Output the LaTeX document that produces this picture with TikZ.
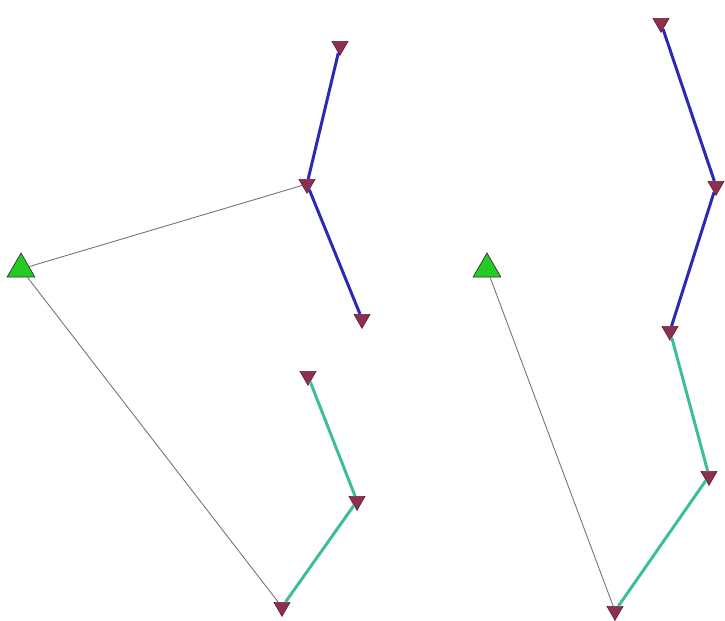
\documentclass[tikz,border=0pt]{standalone}
\usetikzlibrary{shapes.geometric}
\definecolor{RootGreen}{HTML}{22CC22}
\definecolor{LeafMaroon}{HTML}{8E2F52}
\definecolor{ChainBlue}{HTML}{2A2AB4}
\definecolor{ChainTeal}{HTML}{3CBE9C}

\begin{document}
\begin{tikzpicture}[
  x=0.02cm, y=-0.02cm,
  root/.style={regular polygon, regular polygon sides=3, draw=black!80, fill=RootGreen, minimum size=0.64cm, inner sep=0pt},
  leaf/.style={regular polygon, regular polygon sides=3, shape border rotate=180, draw=LeafMaroon!70!black, fill=LeafMaroon, minimum size=0.37cm, inner sep=0pt},
  thin link/.style={draw=black!55, line width=0.5pt},
  blue link/.style={draw=ChainBlue, line width=1.7pt},
  teal link/.style={draw=ChainTeal, line width=1.7pt},
]
\useasboundingbox (0,0) rectangle (725,620);

% left graph
\node[root] (rootL) at (21,269) {};
\node[leaf] (a1) at (340,46) {};
\node[leaf] (a2) at (307,184) {};
\node[leaf] (a3) at (362,319) {};
\node[leaf] (a4) at (308,376) {};
\node[leaf] (a5) at (357,501) {};
\node[leaf] (a6) at (282,607) {};

% right graph
\node[root] (rootR) at (487,269) {};
\node[leaf] (b1) at (661,23) {};
\node[leaf] (b2) at (716,186) {};
\node[leaf] (b3) at (670,331) {};
\node[leaf] (b4) at (709,476) {};
\node[leaf] (b5) at (615,611) {};

\draw[thin link] (rootL) -- (a2);
\draw[thin link] (rootL) -- (a6);
\draw[blue link] (a1) -- (a2);
\draw[blue link] (a2) -- (a3);
\draw[teal link] (a4) -- (a5);
\draw[teal link] (a5) -- (a6);

\draw[thin link] (rootR) -- (b5);
\draw[blue link] (b1) -- (b2);
\draw[blue link] (b2) -- (b3);
\draw[teal link] (b3) -- (b4);
\draw[teal link] (b4) -- (b5);

\end{tikzpicture}
\end{document}
